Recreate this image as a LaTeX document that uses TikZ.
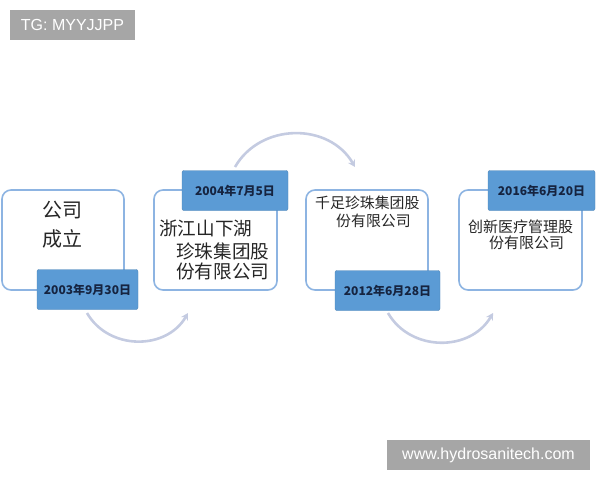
\documentclass[tikz,border=0pt]{standalone}
\usepackage{fontspec}
\setmainfont{Liberation Sans}
\newfontfamily\cjk{Noto Sans CJK SC}
\usetikzlibrary{arrows.meta}
\definecolor{boxline}{RGB}{141, 180, 226}
\definecolor{datefill}{RGB}{91, 155, 213}
\definecolor{datetext}{RGB}{22, 36, 64}
\definecolor{arcgray}{RGB}{196, 203, 225}
\definecolor{markgray}{RGB}{166, 166, 166}

\tikzset{
    stage/.style={draw=boxline, line width=1.6pt, rounded corners=9pt, fill=white,
        minimum width=#1, minimum height=100pt, inner sep=0pt},
    datebox/.style={fill=datefill, draw=datefill!85!black, line width=0.4pt, rounded corners=2pt,
        minimum width=#1, minimum height=40pt, inner sep=0pt, text=datetext,
        font=\cjk\bfseries\fontsize{12}{12}\selectfont},
    cjkline/.style={anchor=west, inner sep=0pt, text=black!85, font=\cjk\fontsize{#1}{#1}\selectfont},
    hop/.style={arcgray, line width=2.6pt, -{Stealth[length=7pt, width=8pt]}},
    tagbox/.style={fill=markgray, text=white, inner sep=0pt, minimum height=30pt,
        font=\fontsize{16}{16}\selectfont}
}

\begin{document}
\begin{tikzpicture}[x=1pt, y=-1pt]
    \useasboundingbox (0,0) rectangle (600,480);
    % watermarks
    \node[tagbox, minimum width=125pt] (tg)  at ( 72.5, 25) {TG: MYYJJPP};
    \node[tagbox, minimum width=203pt] (www) at (488.5,455) {www.hydrosanitech.com};
    % stages
    \node[stage=122pt] (s1) at ( 63.0,240) {};
    \node[stage=123pt] (s2) at (215.5,240) {};
    \node[stage=122pt] (s3) at (367.0,240) {};
    \node[stage=123pt] (s4) at (520.5,240) {};
    % texts
    \node[cjkline=20] (t1a) at ( 42,210) {公司};
    \node[cjkline=20] (t1b) at ( 42,239) {成立};
    \node[cjkline=18.6] (t2a) at (159,228) {浙江山下湖};
    \node[cjkline=18.6] (t2b) at (176,251) {珍珠集团股};
    \node[cjkline=18.6] (t2c) at (176,271) {份有限公司};
    \node[cjkline=14.9] (t3a) at (315,203) {千足珍珠集团股};
    \node[cjkline=14.9] (t3b) at (336,221) {份有限公司};
    \node[cjkline=15] (t4a) at (468,227) {创新医疗管理股};
    \node[cjkline=15] (t4b) at (489,243) {份有限公司};
    % dates
    \node[datebox=101pt] (d1) at ( 87.5,289.5) {2003年9月30日};
    \node[datebox=106pt] (d2) at (235.0,190.5) {2004年7月5日};
    \node[datebox=105pt] (d3) at (387.5,290.5) {2012年6月28日};
    \node[datebox=107pt] (d4) at (541.5,190.5) {2016年6月20日};
    % arcs
    \coordinate (h1a) at ( 87,313);
    \coordinate (h1b) at (188,313);
    \coordinate (h2a) at (235,167);
    \coordinate (h2b) at (355,167);
    \coordinate (h3a) at (388,313);
    \coordinate (h3b) at (493,313);
    \draw[hop] (h1a) to[bend right=60, looseness=1.1] (h1b);
    \draw[hop] (h2a) to[bend left=60, looseness=1.1] (h2b);
    \draw[hop] (h3a) to[bend right=60, looseness=1.1] (h3b);
\end{tikzpicture}
\end{document}
